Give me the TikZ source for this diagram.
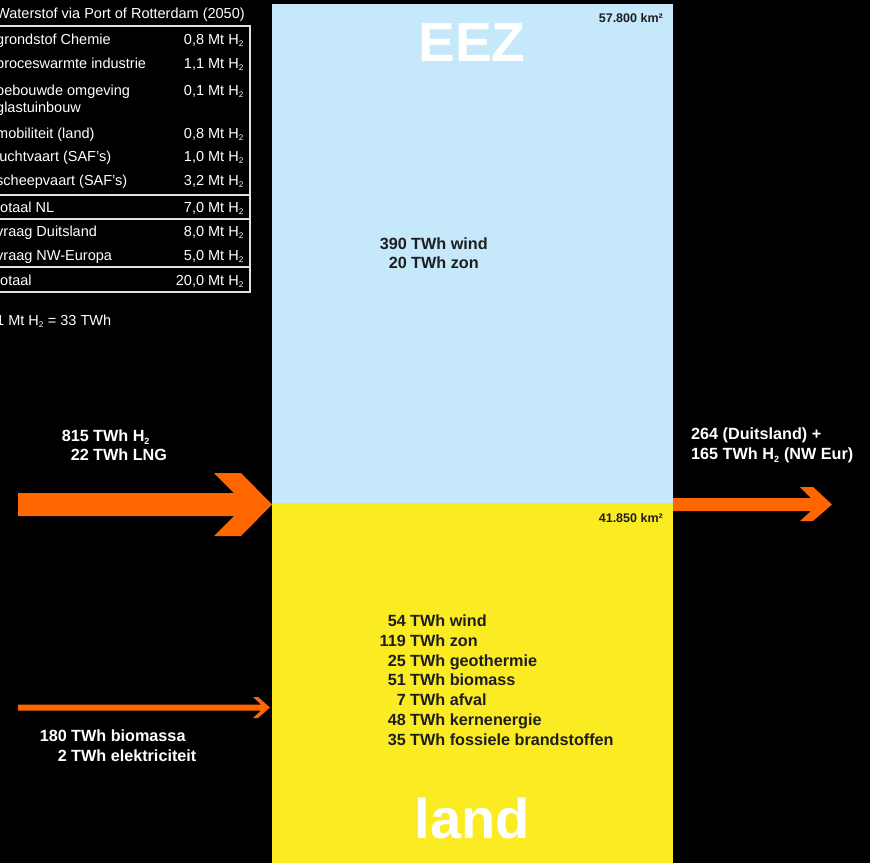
\documentclass[tikz,border=0pt]{standalone}
\usepackage{fontspec}
\setmainfont{Liberation Sans}
\definecolor{skyblue}{RGB}{197,232,250}
\definecolor{sunyellow}{RGB}{250,235,35}
\definecolor{flow}{RGB}{255,102,0}
\definecolor{ink}{RGB}{30,30,30}
\definecolor{rule}{RGB}{225,225,225}
\newcommand{\Htwo}{H\textsubscript{\scalebox{0.8}{2}}}
\tikzset{
  tabtext/.style={text=white, font=\fontsize{14.5}{16}\selectfont, inner sep=0pt, anchor=base west},
  tabnum/.style={text=white, font=\fontsize{14.5}{16}\selectfont, inner sep=0pt, anchor=base east},
  boldw/.style={text=white, font=\bfseries\fontsize{16.2}{19}\selectfont, inner sep=0pt},
  boldk/.style={text=ink, font=\bfseries\fontsize{16.2}{19}\selectfont, inner sep=0pt},
  area/.style={text=ink, font=\bfseries\fontsize{12.5}{14}\selectfont, inner sep=0pt, anchor=base east},
  big/.style={text=white, font=\bfseries\fontsize{55}{60}\selectfont, inner sep=0pt},
  tabline/.style={draw=rule, line width=1.5pt},
}
\begin{document}
\begin{tikzpicture}[x=1pt,y=-1pt]
\fill[black] (0,0) rectangle (870,863);
\useasboundingbox (0,0) rectangle (870,863);
\clip (0,0) rectangle (870,863);

% regions
\fill[skyblue] (272,4) rectangle (673,503);
\fill[sunyellow] (272,503) rectangle (673,863);
\node[big] (eez) at (472,43) {EEZ};
\node[big, font=\bfseries\fontsize{56}{60}\selectfont] (land) at (472,818) {land};
\node[area] (aeez) at (663,22.5) {57.800 km²};
\node[area] (aland) at (663,522.5) {41.850 km²};

% EEZ production
\node[boldk, anchor=base east] (n1) at (407,249.5) {390};
\node[boldk, anchor=base west] (t1) at (411,249.5) {TWh wind};
\node[boldk, anchor=base east] (n2) at (407,268.5) {20};
\node[boldk, anchor=base west] (t2) at (411,268.5) {TWh zon};

% land production
\foreach \y/\n/\t [count=\i] in {626/54/TWh wind, 646/119/TWh zon, 666/25/TWh geothermie, 685.5/51/TWh biomass, 705/7/TWh afval, 725/48/TWh kernenergie, 745/35/TWh fossiele brandstoffen}{
  \node[boldk, anchor=base east] (ln\i) at (406,\y) {\n};
  \node[boldk, anchor=base west] (lt\i) at (410,\y) {\t};
}

% table
\node[tabtext] (title) at (-4,18) {Waterstof via Port of Rotterdam (2050)};
\draw[tabline] (-20,26) -- (250,26) -- (250,292) -- (-20,292);
\draw[tabline] (-20,195) -- (250,195);
\draw[tabline] (-20,219) -- (250,219);
\draw[tabline] (-20,267) -- (250,267);
\foreach \y/\l/\v [count=\i] in {44/grondstof Chemie/0{,}8, 68/proceswarmte industrie/1{,}1, 95/bebouwde omgeving/0{,}1, 138/mobiliteit (land)/0{,}8, 161/luchtvaart (SAF’s)/1{,}0, 185/scheepvaart (SAF’s)/3{,}2, 212/totaal NL/7{,}0, 236/vraag Duitsland/8{,}0, 260/vraag NW-Europa/5{,}0, 285/totaal/20{,}0}{
  \node[tabtext] (tl\i) at (-4,\y) {\l};
  \node[tabnum] (tv\i) at (244,\y) {\v\ Mt \Htwo};
}
\node[tabtext] (tl3b) at (-4,112) {glastuinbouw};
\node[tabtext] (conv) at (-4,325) {1 Mt \Htwo\ = 33 TWh};

% flows
\fill[flow] (18,493) -- (234,493) -- (214,473) -- (241,473) -- (272,504.5) -- (241,536) -- (214,536) -- (234,516) -- (18,516) -- cycle;
\fill[flow] (673,498) -- (811,498) -- (800,487) -- (813,487) -- (832,504.5) -- (813,521) -- (800,521) -- (811,511) -- (673,511) -- cycle;
\fill[flow] (18,704.5) -- (261,704.5) -- (253,697) -- (258,697) -- (270,707.5) -- (258,718) -- (253,718) -- (261,710.5) -- (18,710.5) -- cycle;

\node[boldw, anchor=base east] (in1n) at (89,441.5) {815};
\node[boldw, anchor=base west] (in1t) at (93,441.5) {TWh \Htwo};
\node[boldw, anchor=base east] (in2n) at (89,460.5) {22};
\node[boldw, anchor=base west] (in2t) at (93,460.5) {TWh LNG};

\node[boldw, anchor=base west] (out1) at (691,439.5) {264 (Duitsland) +};
\node[boldw, anchor=base west] (out2) at (691,459.5) {165 TWh \Htwo\ (NW Eur)};

\node[boldw, anchor=base east] (bio1n) at (67,741.5) {180};
\node[boldw, anchor=base west] (bio1t) at (71,741.5) {TWh biomassa};
\node[boldw, anchor=base east] (bio2n) at (67,761.5) {2};
\node[boldw, anchor=base west] (bio2t) at (71,761.5) {TWh elektriciteit};
\end{tikzpicture}
\end{document}
